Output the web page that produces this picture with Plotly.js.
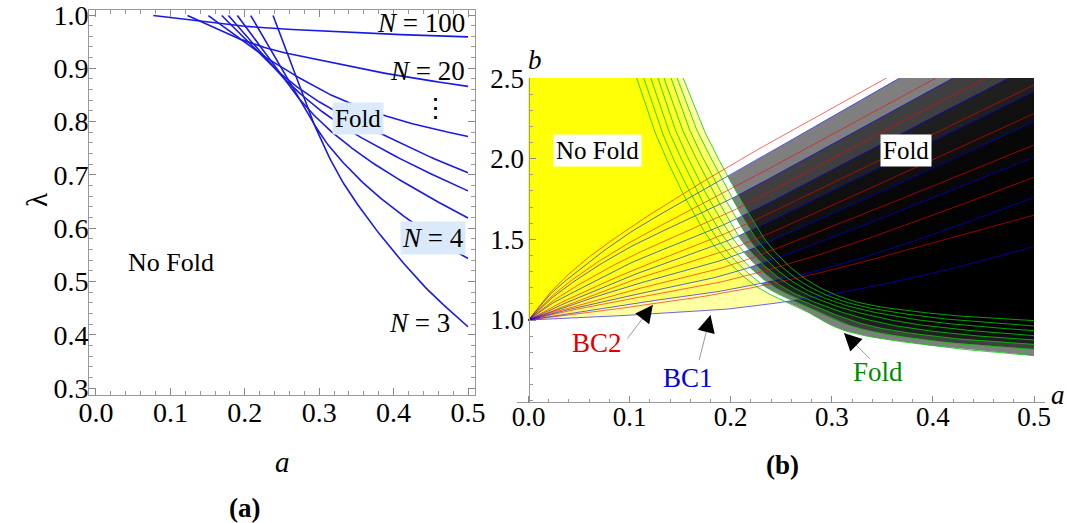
<!DOCTYPE html>
<html>
<head>
<meta charset="utf-8">
<script src="https://cdn.plot.ly/plotly-3.0.1.min.js"></script>
<style>
  html, body { margin: 0; padding: 0; background: #fff; }
  #chart { width: 1067px; height: 523px; }
</style>
</head>
<body>
<div id="chart"></div>
<script>
// ---------- panel (a): fold boundaries lambda(a) for several N ----------
const aTicks = [0, 0.1, 0.2, 0.3, 0.4, 0.5];
const lamTicks = [0.3, 0.4, 0.5, 0.6, 0.7, 0.8, 0.9, 1.0];

const aN100 = [0.077, 0.140, 0.207, 0.288, 0.395, 0.500];
const lamN100 = [0.999, 0.988, 0.978, 0.971, 0.964, 0.959];
const aN20 = [0.123, 0.153, 0.184, 0.234, 0.288, 0.395, 0.500];
const lamN20 = [0.999, 0.980, 0.960, 0.936, 0.919, 0.889, 0.866];
const aN10 = [0.151, 0.183, 0.216, 0.247, 0.281, 0.319, 0.382, 0.436, 0.500];
const lamN10 = [0.999, 0.966, 0.932, 0.904, 0.876, 0.848, 0.814, 0.792, 0.772];
const aN7 = [0.169, 0.202, 0.235, 0.261, 0.290, 0.321, 0.382, 0.442, 0.500];
const lamN7 = [0.999, 0.953, 0.906, 0.875, 0.846, 0.820, 0.778, 0.738, 0.704];
const aN6 = [0.178, 0.211, 0.245, 0.270, 0.300, 0.330, 0.359, 0.429, 0.500];
const lamN6 = [0.999, 0.946, 0.892, 0.858, 0.823, 0.793, 0.768, 0.716, 0.670];
const aN5 = [0.190, 0.226, 0.262, 0.285, 0.310, 0.335, 0.368, 0.409, 0.456, 0.500];
const lamN5 = [0.999, 0.931, 0.862, 0.824, 0.789, 0.760, 0.726, 0.690, 0.652, 0.619];
const aN4 = [0.208, 0.246, 0.285, 0.310, 0.348, 0.388, 0.432, 0.469, 0.500];
const lamN4 = [0.999, 0.907, 0.814, 0.760, 0.700, 0.650, 0.604, 0.568, 0.543];
const aN3 = [0.238, 0.263, 0.288, 0.324, 0.359, 0.405, 0.449, 0.500];
const lamN3 = [0.999, 0.906, 0.812, 0.705, 0.630, 0.548, 0.480, 0.415];

// ---------- panel (b): BC1 / BC2 / fold curves in the (a, b) plane ----------
const bTicks = [1.0, 1.5, 2.0, 2.5];

// BC1 (blue), highest first
const bc1A_1 = [0, 0.02, 0.05, 0.1, 0.2, 0.3, 0.367];
const bc1B_1 = [1, 1.15, 1.31, 1.54, 1.90, 2.26, 2.5];
const bc1A_2 = [0, 0.02, 0.05, 0.1, 0.2, 0.3, 0.42];
const bc1B_2 = [1, 1.12, 1.26, 1.45, 1.75, 2.09, 2.5];
const bc1A_3 = [0, 0.02, 0.05, 0.1, 0.2, 0.3, 0.4, 0.475];
const bc1B_3 = [1, 1.09, 1.19, 1.35, 1.61, 1.93, 2.26, 2.5];
const bc1A_4 = [0, 0.02, 0.05, 0.1, 0.2, 0.3, 0.4, 0.5];
const bc1B_4 = [1, 1.06, 1.14, 1.27, 1.50, 1.80, 2.11, 2.415];
const bc1A_5 = [0, 0.02, 0.05, 0.1, 0.2, 0.3, 0.4, 0.5];
const bc1B_5 = [1, 1.045, 1.11, 1.21, 1.39, 1.66, 1.94, 2.23];
const bc1A_6 = [0, 0.02, 0.05, 0.1, 0.2, 0.3, 0.4, 0.5];
const bc1B_6 = [1, 1.035, 1.08, 1.15, 1.29, 1.51, 1.76, 2.01];
const bc1A_7 = [0, 0.02, 0.05, 0.1, 0.2, 0.3, 0.4, 0.5];
const bc1B_7 = [1, 1.02, 1.05, 1.10, 1.19, 1.33, 1.53, 1.76];
const bc1A_8 = [0, 0.02, 0.05, 0.1, 0.2, 0.3, 0.4, 0.5];
const bc1B_8 = [1, 1.005, 1.013, 1.03, 1.07, 1.16, 1.29, 1.455];

// BC2 (red), highest first
const bc2A_1 = [0, 0.02, 0.05, 0.1, 0.2, 0.3, 0.354];
const bc2B_1 = [1, 1.16, 1.34, 1.57, 1.96, 2.31, 2.5];
const bc2A_2 = [0, 0.02, 0.05, 0.1, 0.2, 0.3, 0.403];
const bc2B_2 = [1, 1.13, 1.28, 1.48, 1.81, 2.15, 2.5];
const bc2A_3 = [0, 0.02, 0.05, 0.1, 0.2, 0.3, 0.4, 0.452];
const bc2B_3 = [1, 1.10, 1.22, 1.39, 1.67, 2.00, 2.33, 2.5];
const bc2A_4 = [0, 0.02, 0.05, 0.1, 0.2, 0.3, 0.4, 0.5];
const bc2B_4 = [1, 1.07, 1.16, 1.30, 1.55, 1.85, 2.15, 2.457];
const bc2A_5 = [0, 0.02, 0.05, 0.1, 0.2, 0.3, 0.4, 0.5];
const bc2B_5 = [1, 1.05, 1.12, 1.24, 1.44, 1.71, 1.995, 2.28];
const bc2A_6 = [0, 0.02, 0.05, 0.1, 0.2, 0.3, 0.4, 0.5];
const bc2B_6 = [1, 1.04, 1.09, 1.18, 1.34, 1.58, 1.83, 2.085];
const bc2A_7 = [0, 0.02, 0.05, 0.1, 0.2, 0.3, 0.4, 0.5];
const bc2B_7 = [1, 1.03, 1.07, 1.13, 1.25, 1.43, 1.65, 1.885];
const bc2A_8 = [0, 0.02, 0.05, 0.1, 0.2, 0.3, 0.4, 0.5];
const bc2B_8 = [1, 1.015, 1.04, 1.08, 1.175, 1.31, 1.48, 1.65];

// fold curves (green), paired with the BC1 curve of the same index
const foldA_1 = [0.153, 0.172, 0.192, 0.214, 0.240, 0.275, 0.320, 0.400, 0.450, 0.500];
const foldB_1 = [2.5, 2.2, 1.95, 1.70, 1.45, 1.250, 1.120, 1.040, 1.015, 0.996];
const foldA_2 = [0.147, 0.165, 0.185, 0.206, 0.232, 0.268, 0.313, 0.387, 0.443, 0.500];
const foldB_2 = [2.5, 2.2, 1.95, 1.70, 1.45, 1.244, 1.113, 1.025, 0.990, 0.963];
const foldA_3 = [0.141, 0.158, 0.177, 0.199, 0.224, 0.261, 0.306, 0.375, 0.436, 0.500];
const foldB_3 = [2.5, 2.2, 1.95, 1.70, 1.45, 1.239, 1.106, 1.011, 0.965, 0.934];
const foldA_4 = [0.134, 0.151, 0.170, 0.191, 0.216, 0.254, 0.299, 0.362, 0.429, 0.500];
const foldB_4 = [2.5, 2.2, 1.95, 1.70, 1.45, 1.233, 1.099, 0.996, 0.940, 0.903];
const foldA_5 = [0.128, 0.144, 0.162, 0.183, 0.209, 0.246, 0.291, 0.349, 0.421, 0.500];
const foldB_5 = [2.5, 2.2, 1.95, 1.70, 1.45, 1.227, 1.091, 0.982, 0.915, 0.876];
const foldA_6 = [0.121, 0.137, 0.155, 0.175, 0.201, 0.239, 0.284, 0.336, 0.414, 0.500];
const foldB_6 = [2.5, 2.2, 1.95, 1.70, 1.45, 1.221, 1.084, 0.967, 0.890, 0.849];
const foldA_7 = [0.114, 0.130, 0.147, 0.168, 0.193, 0.232, 0.277, 0.324, 0.407, 0.500];
const foldB_7 = [2.5, 2.2, 1.95, 1.70, 1.45, 1.216, 1.077, 0.953, 0.865, 0.818];
const foldA_8 = [0.107, 0.123, 0.140, 0.160, 0.185, 0.225, 0.270, 0.311, 0.400, 0.500];
const foldB_8 = [2.5, 2.2, 1.95, 1.70, 1.45, 1.210, 1.070, 0.938, 0.840, 0.779];

// ---------- helpers ----------
const W = 1067, H = 523;
const px = x => x / W;
const py = y => 1 - y / H;
const SERIF = 'Liberation Serif, Times New Roman, serif';

// centripetal Catmull-Rom path through the given points (computed in screen-like units)
function smoothPath(xs, ys, sx, sy, n) {
  const P = xs.map((x, i) => [x * sx, ys[i] * sy]);
  const m = P.length;
  const ext = [[2 * P[0][0] - P[1][0], 2 * P[0][1] - P[1][1]], ...P,
               [2 * P[m - 1][0] - P[m - 2][0], 2 * P[m - 1][1] - P[m - 2][1]]];
  const knot = (a, b) => Math.sqrt(Math.hypot(b[0] - a[0], b[1] - a[1])) || 1e-6;
  const X = [], Y = [];
  for (let i = 1; i < m; i++) {
    const p0 = ext[i - 1], p1 = ext[i], p2 = ext[i + 1], p3 = ext[i + 2];
    const t0 = 0, t1 = t0 + knot(p0, p1), t2 = t1 + knot(p1, p2), t3 = t2 + knot(p2, p3);
    for (let s = 0; s < n; s++) {
      const t = t1 + (t2 - t1) * s / n;
      const L = (a, b, ta, tb) => [((tb - t) * a[0] + (t - ta) * b[0]) / (tb - ta),
                                   ((tb - t) * a[1] + (t - ta) * b[1]) / (tb - ta)];
      const A1 = L(p0, p1, t0, t1), A2 = L(p1, p2, t1, t2), A3 = L(p2, p3, t2, t3);
      const B1 = L(A1, A2, t0, t2), B2 = L(A2, A3, t1, t3);
      const C = L(B1, B2, t1, t2);
      X.push(C[0] / sx); Y.push(C[1] / sy);
    }
  }
  X.push(xs[m - 1]); Y.push(ys[m - 1]);
  return [X, Y];
}

function valueAt(path, x) {
  const X = path[0], Y = path[1];
  if (x <= X[0]) return Y[0];
  for (let i = 1; i < X.length; i++) {
    if (X[i] >= x) {
      const f = (x - X[i - 1]) / (X[i] - X[i - 1]);
      return Y[i - 1] + f * (Y[i] - Y[i - 1]);
    }
  }
  return Y[Y.length - 1];
}

// ---------- traces ----------
const traces = [];

const leftSeries = [[aN100, lamN100], [aN20, lamN20], [aN10, lamN10], [aN7, lamN7],
                    [aN6, lamN6], [aN5, lamN5], [aN4, lamN4], [aN3, lamN3]];
leftSeries.forEach(([a, l]) => {
  const p = smoothPath(a, l, 744, 533, 14);
  traces.push({ x: p[0], y: p[1], xaxis: 'x', yaxis: 'y', mode: 'lines',
                line: { color: '#1a1ae6', width: 1.6 }, hoverinfo: 'skip' });
});

const BC1 = [[bc1A_1, bc1B_1], [bc1A_2, bc1B_2], [bc1A_3, bc1B_3], [bc1A_4, bc1B_4],
             [bc1A_5, bc1B_5], [bc1A_6, bc1B_6], [bc1A_7, bc1B_7], [bc1A_8, bc1B_8]];
const BC2 = [[bc2A_1, bc2B_1], [bc2A_2, bc2B_2], [bc2A_3, bc2B_3], [bc2A_4, bc2B_4],
             [bc2A_5, bc2B_5], [bc2A_6, bc2B_6], [bc2A_7, bc2B_7], [bc2A_8, bc2B_8]];
const FOLD = [[foldA_1, foldB_1], [foldA_2, foldB_2], [foldA_3, foldB_3], [foldA_4, foldB_4],
              [foldA_5, foldB_5], [foldA_6, foldB_6], [foldA_7, foldB_7], [foldA_8, foldB_8]];

const SX = 1011, SY = 161.3;
const bluePaths = BC1.map(([a, b]) => smoothPath(a, b, SX, SY, 16));
const redPaths = BC2.map(([a, b]) => smoothPath(a, b, SX, SY, 16));
const foldPaths = FOLD.map(([a, b]) => smoothPath(a, b, SX, SY, 16));

const yellowFills = [], grayFills = [];
for (let k = 0; k < 8; k++) {
  const B = bluePaths[k], F = foldPaths[k];
  // where the fold curve meets this BC1 curve
  let j = 0, pa = F[0][0], pb = F[1][0];
  for (let i = 0; i < F[0].length - 1; i++) {
    const d0 = F[1][i] - valueAt(B, F[0][i]);
    const d1 = F[1][i + 1] - valueAt(B, F[0][i + 1]);
    if (d0 >= 0 && d1 < 0) {
      const f = d0 / (d0 - d1);
      pa = F[0][i] + f * (F[0][i + 1] - F[0][i]);
      pb = F[1][i] + f * (F[1][i + 1] - F[1][i]);
      j = i; break;
    }
  }
  // no-fold side: above BC1, left of the fold curve
  const yx = [0], yy = [2.5];
  for (let i = 0; i < B[0].length && B[0][i] < pa; i++) { yx.push(B[0][i]); yy.push(B[1][i]); }
  yx.push(pa); yy.push(pb);
  for (let i = j; i >= 0; i--) { yx.push(F[0][i]); yy.push(F[1][i]); }
  yellowFills.push({ x: yx, y: yy, xaxis: 'x2', yaxis: 'y2', mode: 'lines', fill: 'toself',
                     fillcolor: 'rgba(255,255,0,0.36)', line: { width: 0 }, hoverinfo: 'skip' });
  // fold side: below BC1, right of the fold curve
  const gx = [pa], gy = [pb];
  for (let i = 0; i < B[0].length; i++) if (B[0][i] > pa) { gx.push(B[0][i]); gy.push(B[1][i]); }
  if (B[0][B[0].length - 1] < 0.4999) { gx.push(0.5); gy.push(2.5); }
  for (let i = F[0].length - 1; i > j; i--) { gx.push(F[0][i]); gy.push(F[1][i]); }
  grayFills.push({ x: gx, y: gy, xaxis: 'x2', yaxis: 'y2', mode: 'lines', fill: 'toself',
                   fillcolor: 'rgba(0,0,0,0.5)', line: { width: 0 }, hoverinfo: 'skip' });
}
traces.push(...yellowFills, ...grayFills);
redPaths.forEach(p => traces.push({ x: p[0], y: p[1], xaxis: 'x2', yaxis: 'y2', mode: 'lines',
  line: { color: 'rgba(255,0,0,0.6)', width: 1 }, hoverinfo: 'skip' }));
bluePaths.forEach(p => traces.push({ x: p[0], y: p[1], xaxis: 'x2', yaxis: 'y2', mode: 'lines',
  line: { color: 'rgba(0,0,255,0.6)', width: 1 }, hoverinfo: 'skip' }));
foldPaths.forEach(p => traces.push({ x: p[0], y: p[1], xaxis: 'x2', yaxis: 'y2', mode: 'lines',
  line: { color: 'rgba(0,205,0,0.8)', width: 1 }, hoverinfo: 'skip' }));

// ---------- annotations ----------
function label(text, x, y, size, extra) {
  return Object.assign({ text, xref: 'paper', yref: 'paper', x: px(x), y: py(y),
    xanchor: 'center', yanchor: 'middle', showarrow: false,
    font: { family: SERIF, size, color: '#000' } }, extra || {});
}
const lightBlue = '#dbeafa';
const annotations = [
  // panel (a)
  label('<i>N</i> = 100', 421, 23, 27),
  label('<i>N</i> = 20', 427, 71, 27),
  label('⋮', 435, 108, 27),
  label('Fold', 357.7, 119, 25, { bgcolor: lightBlue, borderpad: 2 }),
  label('<i>N</i> = 4', 432.5, 238.5, 27, { bgcolor: lightBlue, borderpad: 1 }),
  label('<i>N</i> = 3', 419.5, 323, 27),
  label('No Fold', 170.5, 262, 26),
  label('λ', 37, 200, 29, { textangle: -90 }),
  label('<i>a</i>', 282, 462, 29),
  label('<b>(a)</b>', 244, 508, 27),
  // panel (b)
  label('No Fold', 597, 150, 25, { bgcolor: '#fff', borderpad: 2 }),
  label('Fold', 906, 150, 25, { bgcolor: '#fff', borderpad: 2 }),
  label('BC2', 597, 343, 27, { font: { family: SERIF, size: 27, color: '#e00000' } }),
  label('BC1', 688, 378, 27, { font: { family: SERIF, size: 27, color: '#0000e0' } }),
  label('Fold', 878, 372, 27, { font: { family: SERIF, size: 27, color: '#008a00' } }),
  label('<i>b</i>', 535, 60, 27),
  label('<i>a</i>', 1058, 395, 27),
  label('<b>(b)</b>', 782, 465, 27)
];

// pointers to the BC2, BC1 and fold curves
const pointers = [
  { x: 0.123, y: 1.093, ax: -26.6, ay: 35, hx: -9.7, hy: 12.7 },
  { x: 0.180, y: 1.031, ax: -11.7, ay: 46.7, hx: -3.9, hy: 15.5 },
  { x: 0.312, y: 0.919, ax: 27.7, ay: 27.3, hx: 11.4, hy: 11.2 }
];
pointers.forEach(p => {
  annotations.push({ xref: 'x2', yref: 'y2', x: p.x, y: p.y, ax: p.ax, ay: p.ay, text: '',
    showarrow: true, arrowhead: 0, arrowwidth: 1, arrowcolor: '#9a9a9a' });
  annotations.push({ xref: 'x2', yref: 'y2', x: p.x, y: p.y, ax: p.hx, ay: p.hy, text: '',
    showarrow: true, arrowhead: 2, arrowsize: 2.5, arrowwidth: 1.4, arrowcolor: '#000' });
});

// ---------- axes ----------
const tickFontA = { family: SERIF, size: 28, color: '#000' };
const tickFontB = { family: SERIF, size: 27, color: '#000' };
const layout = {
  width: W, height: H, margin: { l: 0, r: 0, t: 0, b: 0 },
  paper_bgcolor: '#fff', plot_bgcolor: 'rgba(0,0,0,0)', showlegend: false,
  xaxis: {
    domain: [px(89), px(475)], range: [-0.0094, 0.5094], anchor: 'y',
    tickvals: aTicks, tickformat: '.1f', tickfont: tickFontA, ticklabeloverflow: 'allow',
    ticks: 'inside', ticklen: 7, tickcolor: '#888', ticklabelstandoff: -8,
    minor: { dtick: 0.02, tick0: 0, ticks: 'inside', ticklen: 4, tickcolor: '#999' },
    showline: true, linecolor: '#999', linewidth: 1, mirror: 'allticks',
    showgrid: false, zeroline: false, fixedrange: true
  },
  yaxis: {
    domain: [py(395), py(10)], range: [0.2869, 1.0094], anchor: 'x',
    tickvals: lamTicks, tickformat: '.1f', tickfont: tickFontA, ticklabeloverflow: 'allow',
    ticks: 'inside', ticklen: 7, tickcolor: '#888', ticklabelstandoff: -6,
    minor: { dtick: 0.02, tick0: 0, ticks: 'inside', ticklen: 4, tickcolor: '#999' },
    showline: true, linecolor: '#999', linewidth: 1, mirror: 'allticks',
    showgrid: false, zeroline: false, fixedrange: true
  },
  xaxis2: {
    domain: [px(517), px(1045)], range: [-0.011375, 0.51088], anchor: 'y2',
    tickvals: aTicks, tickformat: '.1f', tickfont: tickFontB, ticklabeloverflow: 'allow',
    ticks: 'inside', ticklen: 6, tickcolor: '#888', ticklabelstandoff: -9,
    minor: { dtick: 0.02, tick0: 0, ticks: 'inside', ticklen: 3, tickcolor: '#999' },
    showline: true, linecolor: '#999', linewidth: 1,
    showgrid: false, zeroline: false, fixedrange: true
  },
  yaxis2: {
    domain: [py(402), py(78)], range: [0.49163, 2.50031], anchor: 'free', position: px(528.5),
    tickvals: bTicks, tickformat: '.1f', tickfont: tickFontB, ticklabeloverflow: 'allow',
    ticks: 'inside', ticklen: 6, tickcolor: '#888', ticklabelstandoff: -1,
    minor: { dtick: 0.1, tick0: 0, ticks: 'inside', ticklen: 3, tickcolor: '#999' },
    showline: true, linecolor: '#999', linewidth: 1,
    showgrid: false, zeroline: false, fixedrange: true
  },
  annotations
};

Plotly.newPlot('chart', traces, layout, { staticPlot: true, displayModeBar: false });
</script>
</body>
</html>
